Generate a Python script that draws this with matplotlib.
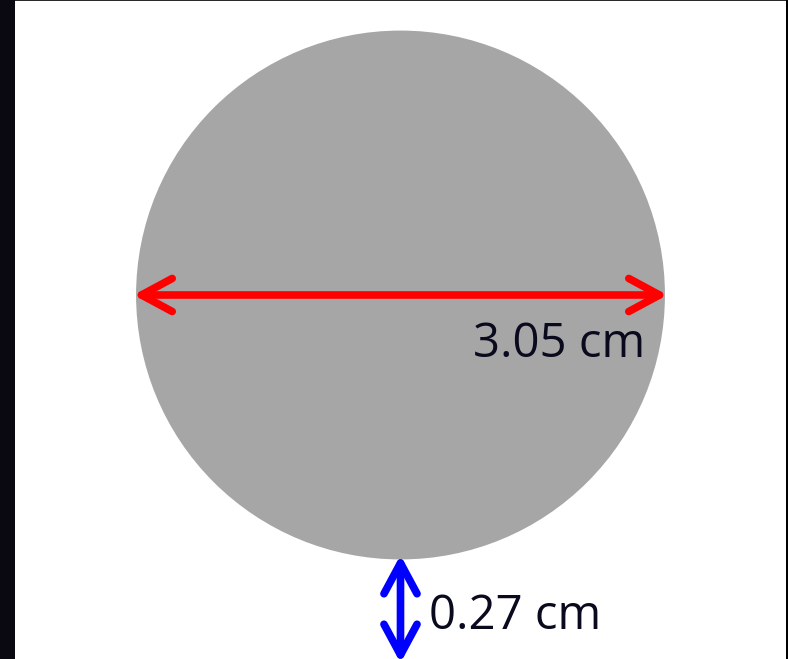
import matplotlib
matplotlib.use("Agg")
import matplotlib.pyplot as plt
from matplotlib.patches import Circle, Rectangle

# Data (cm)
diameter_cm = 3.05
gap_cm = 0.27
labels = ["3.05 cm", "0.27 cm"]

W, H, DPI = 788, 659, 100
fig = plt.figure(figsize=(W / DPI, H / DPI), dpi=DPI)
fig.patch.set_facecolor("white")
ax = fig.add_axes([0, 0, 1, 1])
ax.set_axis_off()

px_per_cm = 173.4
cx_px, cy_px = 400.5, 295.0
def X(px):
    return (px - cx_px) / px_per_cm
def Y(py):
    return (cy_px - py) / px_per_cm

ax.set_xlim(X(0), X(W))
ax.set_ylim(Y(H), Y(0))
ax.set_aspect("equal")

# background strips / frame
ax.add_patch(Rectangle((X(0), Y(H)), X(15) - X(0), Y(0) - Y(H),
                       facecolor="#0a0810", edgecolor="none", zorder=0))
ax.plot([X(15), X(W)], [Y(0.5), Y(0.5)], color="black", lw=1.2, zorder=5)
ax.add_patch(Rectangle((X(786), Y(H)), X(W) - X(786), Y(0) - Y(H),
                       facecolor="black", edgecolor="none", zorder=5))

r = diameter_cm / 2
ax.add_patch(Circle((0, 0), r, facecolor="#a6a6a6", edgecolor="none", zorder=1))

astyle = "<->,head_length=1.3,head_width=0.7"

# diameter arrow
ax.annotate("", xy=(r + 0.015, 0), xytext=(-r - 0.015, 0),
            arrowprops=dict(arrowstyle=astyle,
                            color="#ff0000", lw=5.5, shrinkA=0, shrinkB=0,
                            capstyle="round", joinstyle="round",
                            mutation_scale=17), zorder=3)
ax.text(X(645), Y(357), labels[0], ha="right", va="baseline",
        fontsize=34, family="Open Sans", color="#0a0a1e", zorder=4)

# gap arrow
gy0 = Y(555)
gy1 = Y(663)
ax.annotate("", xy=(0, gy1), xytext=(0, gy0), annotation_clip=False,
            arrowprops=dict(arrowstyle=astyle,
                            color="#0000ff", lw=5.5, shrinkA=0, shrinkB=0,
                            capstyle="round", joinstyle="round",
                            mutation_scale=17), zorder=3)
ax.text(X(429), Y(629), labels[1], ha="left", va="baseline",
        fontsize=34, family="Open Sans", color="#0a0a1e", zorder=4)

fig.savefig("out.png", dpi=DPI, facecolor=fig.get_facecolor())
